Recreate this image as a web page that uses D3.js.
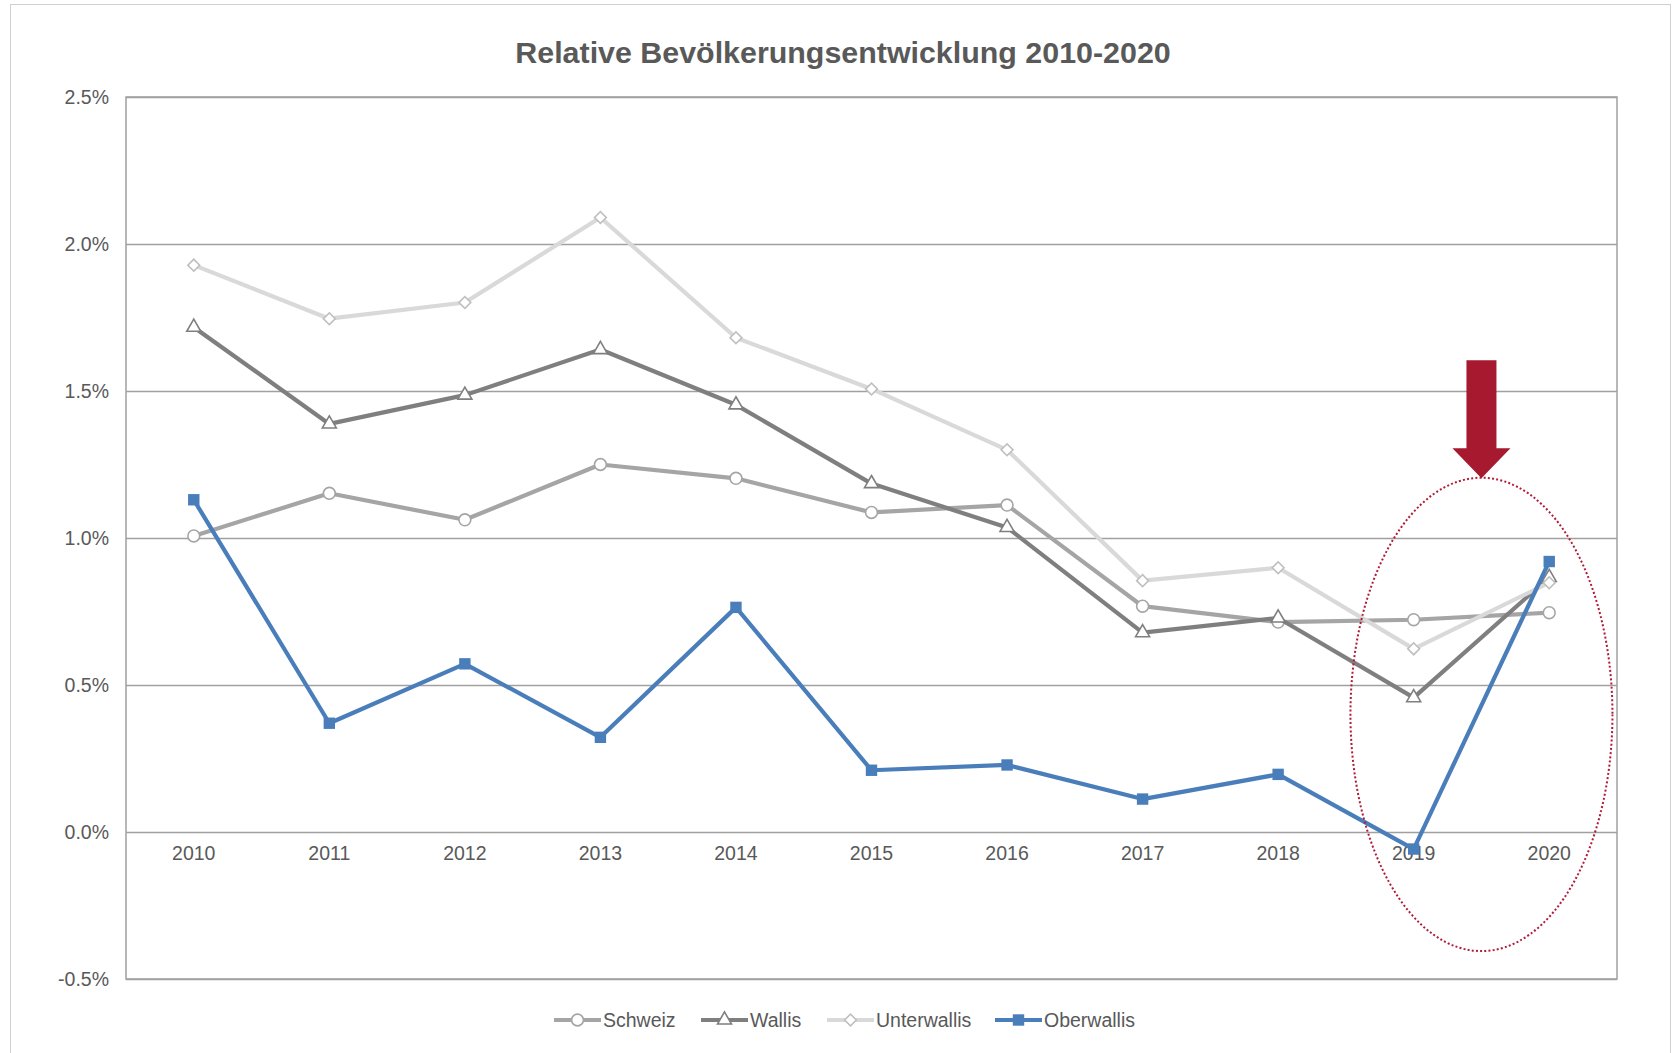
<!DOCTYPE html>
<html>
<head>
<meta charset="utf-8">
<script src="https://cdn.jsdelivr.net/npm/d3@7"></script>
<style>
body { margin: 0; background: #fff; }
text { font-family: "Liberation Sans", Arial, sans-serif; fill: #595959; }
</style>
</head>
<body>
<svg id="chart" width="1673" height="1053"></svg>
<script>
var years = ["2010", "2011", "2012", "2013", "2014", "2015", "2016", "2017", "2018", "2019", "2020"];
var schweiz = [1.007, 1.152, 1.062, 1.250, 1.203, 1.087, 1.112, 0.768, 0.714, 0.722, 0.746];
var wallis = [1.717, 1.388, 1.486, 1.641, 1.453, 1.185, 1.036, 0.678, 0.728, 0.457, 0.866];
var unterwallis = [1.928, 1.746, 1.801, 2.090, 1.681, 1.507, 1.300, 0.855, 0.899, 0.623, 0.848];
var oberwallis = [1.130, 0.370, 0.572, 0.322, 0.764, 0.210, 0.228, 0.112, 0.196, -0.058, 0.920];
var yTicks = [-0.5, 0, 0.5, 1.0, 1.5, 2.0, 2.5];
var seriesNames = ["Schweiz", "Wallis", "Unterwallis", "Oberwallis"];

(function() {
	var svg = d3.select("#chart");
	var margin = { top: 97, right: 56, bottom: 74, left: 126 },
		width = +svg.attr("width") - margin.left - margin.right,
		height = +svg.attr("height") - margin.top - margin.bottom;

	var series = [
		{ name: seriesNames[0], values: schweiz, color: "#a5a5a5", marker: "circle" },
		{ name: seriesNames[1], values: wallis, color: "#7f7f7f", marker: "triangle" },
		{ name: seriesNames[2], values: unterwallis, color: "#d9d9d9", marker: "diamond" },
		{ name: seriesNames[3], values: oberwallis, color: "#4a7ebb", marker: "square" }
	];

	// outer frame
	svg.append("rect").attr("x", 10.5).attr("y", 4.5).attr("width", 1660).attr("height", 1060)
		.attr("fill", "none").attr("stroke", "#d0d0d0");

	svg.append("text").attr("x", 843).attr("y", 63).attr("text-anchor", "middle")
		.style("font-size", "30.4px").style("font-weight", "bold")
		.text("Relative Bevölkerungsentwicklung 2010-2020");

	var x = d3.scaleBand().domain(years).range([0, width]).padding(0);
	var y = d3.scaleLinear().domain([-0.5, 2.5]).range([height, 0]);
	var cx = function(i) { return x(years[i]) + x.bandwidth() / 2; };

	var g = svg.append("g").attr("transform", "translate(" + margin.left + "," + margin.top + ")");

	// gridlines + y labels
	g.append("g").call(d3.axisLeft(y).tickValues(yTicks).tickSize(-width).tickPadding(17)
			.tickFormat(function(d) { return d.toFixed(1) + "%"; }))
		.call(function(a) {
			a.select(".domain").remove();
			a.selectAll("line").attr("stroke", "#a0a0a0").attr("stroke-width", 1.3);
			a.selectAll("text").style("font-size", "19.5px").attr("fill", "#595959");
		});

	g.append("rect").attr("width", width).attr("height", height)
		.attr("fill", "none").attr("stroke", "#a0a0a0").attr("stroke-width", 1.5);

	// year labels sit just below the zero line
	g.append("g").attr("transform", "translate(0," + y(0) + ")")
		.call(d3.axisBottom(x).tickSize(0).tickPadding(14))
		.call(function(a) {
			a.select(".domain").remove();
			a.selectAll("text").style("font-size", "19.5px").attr("fill", "#595959");
		});

	// diamond = square turned 45 degrees
	var symbolOf = { circle: d3.symbolCircle, triangle: d3.symbolTriangle, diamond: d3.symbolSquare, square: d3.symbolSquare };
	var sizeOf = { circle: 110, triangle: 85, diamond: 70, square: 130 };

	var drawMarker = function(sel, s) {
		sel.attr("d", d3.symbol().type(symbolOf[s.marker]).size(sizeOf[s.marker])())
			.attr("fill", s.marker == "square" ? s.color : "#fff")
			.attr("stroke", s.marker == "square" ? "none" : (s.marker == "diamond" ? "#bfbfbf" : s.color))
			.attr("stroke-width", 1.6);
	};
	var rot = function(s) { return s.marker == "diamond" ? " rotate(45)" : ""; };

	var line = d3.line().x(function(d, i) { return cx(i); }).y(function(d) { return y(d); });

	series.forEach(function(s) {
		g.append("path").datum(s.values).attr("d", line)
			.attr("fill", "none").attr("stroke", s.color).attr("stroke-width", 4.2)
			.attr("stroke-linejoin", "round");
		g.selectAll(null).data(s.values).enter().append("path")
			.attr("transform", function(d, i) { return "translate(" + cx(i) + "," + y(d) + ")" + rot(s); })
			.each(function() { drawMarker(d3.select(this), s); });
	});

	// highlight between 2019 and 2020
	var mid = (cx(9) + cx(10)) / 2;
	g.append("ellipse").attr("cx", mid).attr("cy", y(0.40))
		.attr("rx", 131).attr("ry", (y(-0.41) - y(1.20)) / 2)
		.attr("fill", "none").attr("stroke", "#b01c38").attr("stroke-width", 2)
		.attr("stroke-dasharray", "2,2.2");

	var tipY = y(1.20) - 1, headY = tipY - 30, topY = headY - 88;
	g.append("path")
		.attr("d", "M" + (mid - 15) + "," + topY + "H" + (mid + 15) + "V" + headY + "H" + (mid + 29)
			+ "L" + mid + "," + tipY + "L" + (mid - 29) + "," + headY + "H" + (mid - 15) + "Z")
		.attr("fill", "#a6192e");

	// legend
	var legendX = [554, 701, 827, 995];
	var lg = svg.append("g").attr("transform", "translate(0,1020)");
	series.forEach(function(s, i) {
		var item = lg.append("g").attr("transform", "translate(" + legendX[i] + ",0)");
		item.append("line").attr("x1", 0).attr("x2", 47).attr("stroke", s.color).attr("stroke-width", 4.2);
		item.append("path").attr("transform", "translate(23.5,0)" + rot(s)).call(drawMarker, s);
		item.append("text").attr("x", 49).attr("dy", "0.35em").style("font-size", "19.5px").text(s.name);
	});
})();
</script>
</body>
</html>
